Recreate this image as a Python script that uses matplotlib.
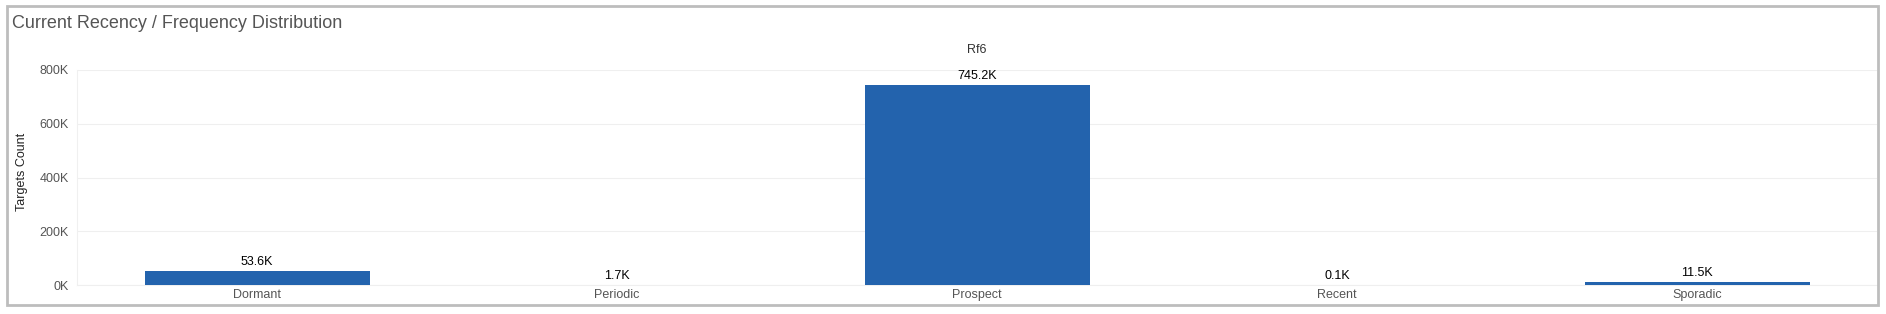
import matplotlib

matplotlib.use("Agg")
import matplotlib.pyplot as plt
from matplotlib.patches import Rectangle
from matplotlib.ticker import FuncFormatter

CATEGORIES = ["Dormant", "Periodic", "Prospect", "Recent", "Sporadic"]
COUNTS = [53600, 1700, 745200, 100, 11500]
VALUE_LABELS = ["53.6K", "1.7K", "745.2K", "0.1K", "11.5K"]
Y_TICKS = [0, 200000, 400000, 600000, 800000]

BAR_COLOR = "#2363ad"
TEXT_GRAY = "#555555"
W, H = 1886, 314

plt.rcParams["font.family"] = ["Liberation Sans", "DejaVu Sans"]

fig = plt.figure(figsize=(W / 100, H / 100), dpi=100)
fig.patch.set_facecolor("white")

# outer panel border
fig.patches.append(
    Rectangle((7 / W, 1 - 305 / H), (1878 - 7) / W, (305 - 6) / H,
              transform=fig.transFigure, fill=False, edgecolor="#bdbdbd", linewidth=2)
)
fig.text(12 / W, 1 - 23 / H, "Current Recency / Frequency Distribution",
         fontsize=13, color=TEXT_GRAY, va="center", ha="left")

ax = fig.add_axes([77 / W, 1 - 285 / H, (1877 - 77) / W, (285 - 70) / H])
x = range(len(CATEGORIES))
ax.bar(x, COUNTS, width=0.625, color=BAR_COLOR, zorder=3)
for xi, val, lab in zip(x, COUNTS, VALUE_LABELS):
    ax.annotate(lab, (xi, val), xytext=(0, 2), textcoords="offset points",
                ha="center", va="bottom", fontsize=9, color="black")

ax.set_xlim(-0.5, len(CATEGORIES) - 0.5)
ax.set_ylim(0, 800000)
ax.set_yticks(Y_TICKS)
ax.yaxis.set_major_formatter(FuncFormatter(lambda v, _: f"{v / 1000:.0f}K"))
ax.set_xticks(list(x))
ax.set_xticklabels(CATEGORIES)
ax.tick_params(axis="both", length=0, labelsize=9, labelcolor=TEXT_GRAY)
ax.tick_params(axis="y", pad=6)
ax.tick_params(axis="x", pad=3)
ax.grid(axis="y", color="#efefef", linewidth=0.8, zorder=0)
for side in ["top", "right"]:
    ax.spines[side].set_visible(False)
ax.spines["left"].set_color("#f0f0f0")
ax.spines["bottom"].set_color("#efefef")
ax.set_title("Rf6", fontsize=9, color="#333333", pad=12)
fig.text(22 / W, 1 - 172 / H, "Targets Count", rotation=90, fontsize=9,
         color="#222222", ha="center", va="center")

fig.savefig("out.png", dpi=100)
